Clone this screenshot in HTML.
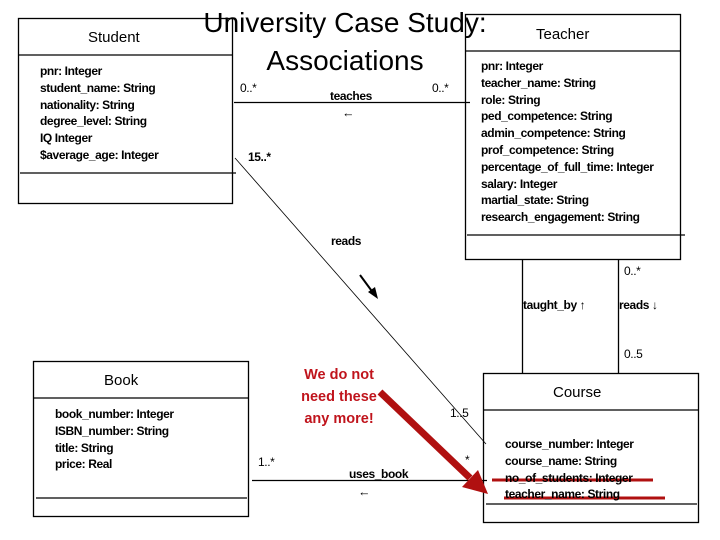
<!DOCTYPE html>
<html><head><meta charset="utf-8"><style>
body{margin:0;width:720px;height:540px;background:#fff;position:relative;overflow:hidden;font-family:"Liberation Sans",sans-serif}
.t{position:absolute;white-space:nowrap;font-size:12.5px;color:#000}
.a{position:absolute;white-space:nowrap;font-size:12px;line-height:16.8px;font-weight:bold;font-family:"Liberation Sans Narrow","Liberation Sans",sans-serif;letter-spacing:-0.4px}
</style></head><body>
<svg width="720" height="540" style="position:absolute;left:0;top:0">
<g fill="none" stroke="#000" stroke-width="1.3">
<rect x="18.5" y="18.5" width="214" height="185"/><line x1="18" y1="55" x2="232" y2="55"/><line x1="20" y1="173" x2="236" y2="173"/>
<rect x="465.5" y="14.5" width="215" height="245"/><line x1="465" y1="51" x2="680" y2="51"/><line x1="467" y1="235" x2="685" y2="235"/>
<rect x="33.5" y="361.5" width="215" height="155"/><line x1="33" y1="398" x2="248" y2="398"/><line x1="36" y1="498" x2="247" y2="498"/>
<rect x="483.5" y="373.5" width="215" height="149"/><line x1="483" y1="410" x2="698" y2="410"/><line x1="486" y1="504" x2="697" y2="504"/>
<line x1="234" y1="102.5" x2="470" y2="102.5"/>
<line x1="252" y1="480.5" x2="487" y2="480.5"/>
<line x1="522.5" y1="259" x2="522.5" y2="373"/><line x1="618.5" y1="259" x2="618.5" y2="373"/>
</g>
<line x1="235" y1="158" x2="486" y2="444" stroke="#000" stroke-width="0.8"/>
<line x1="360" y1="275" x2="374" y2="294" stroke="#000" stroke-width="2"/>
<polygon points="378,299 368,292 375,287" fill="#000"/>
<line x1="380" y1="392" x2="470" y2="478" stroke="#b01010" stroke-width="7"/>
<polygon points="488,494 462,487 478,470" fill="#b01010"/>
<line x1="492" y1="480" x2="653" y2="480" stroke="#b01010" stroke-width="3"/>
<line x1="504" y1="498" x2="665" y2="498" stroke="#b01010" stroke-width="3"/>
</svg>
<div class="t" style="left:88px;top:29px;font-size:15px">Student</div>
<div class="t" style="left:536px;top:26px;font-size:15px">Teacher</div>
<div class="t" style="left:104px;top:372px;font-size:15px">Book</div>
<div class="t" style="left:553px;top:384px;font-size:15px">Course</div>
<div class="t" style="left:200px;top:4px;font-size:28px;line-height:38px;text-align:center;width:290px">University Case Study:<br>Associations</div>
<div class="a" style="left:40px;top:63px">pnr: Integer<br>student_name: String<br>nationality: String<br>degree_level: String<br>IQ Integer<br>$average_age: Integer</div>
<div class="a" style="left:481px;top:58px">pnr: Integer<br>teacher_name: String<br>role: String<br>ped_competence: String<br>admin_competence: String<br>prof_competence: String<br>percentage_of_full_time: Integer<br>salary: Integer<br>martial_state: String<br>research_engagement: String</div>
<div class="a" style="left:55px;top:406px">book_number: Integer<br>ISBN_number: String<br>title: String<br>price: Real</div>
<div class="a" style="left:505px;top:436px">course_number: Integer<br>course_name: String<br>no_of_students: Integer<br>teacher_name: String</div>
<div class="a" style="left:240px;top:80px;font-weight:normal">0..*</div>
<div class="a" style="left:432px;top:80px;font-weight:normal">0..*</div>
<div class="a" style="left:330px;top:88px">teaches</div>
<div class="t" style="left:342px;top:106px">←</div>
<div class="a" style="left:248px;top:149px">15..*</div>
<div class="a" style="left:331px;top:233px">reads</div>
<div class="a" style="left:624px;top:263px;font-weight:normal">0..*</div>
<div class="a" style="left:523px;top:297px">taught_by ↑</div>
<div class="a" style="left:619px;top:297px">reads ↓</div>
<div class="a" style="left:624px;top:346px;font-weight:normal">0..5</div>
<div class="a" style="left:450px;top:405px;font-weight:normal">1..5</div>
<div class="a" style="left:258px;top:454px;font-weight:normal">1..*</div>
<div class="a" style="left:465px;top:452px;font-weight:normal">*</div>
<div class="a" style="left:349px;top:466px">uses_book</div>
<div class="t" style="left:358px;top:485px">←</div>
<div class="t" style="left:293px;top:364px;white-space:normal;font-size:14.5px;line-height:22px;font-weight:bold;color:#c0141c;text-align:center;width:92px">We do not need these any more!</div>
</body></html>
